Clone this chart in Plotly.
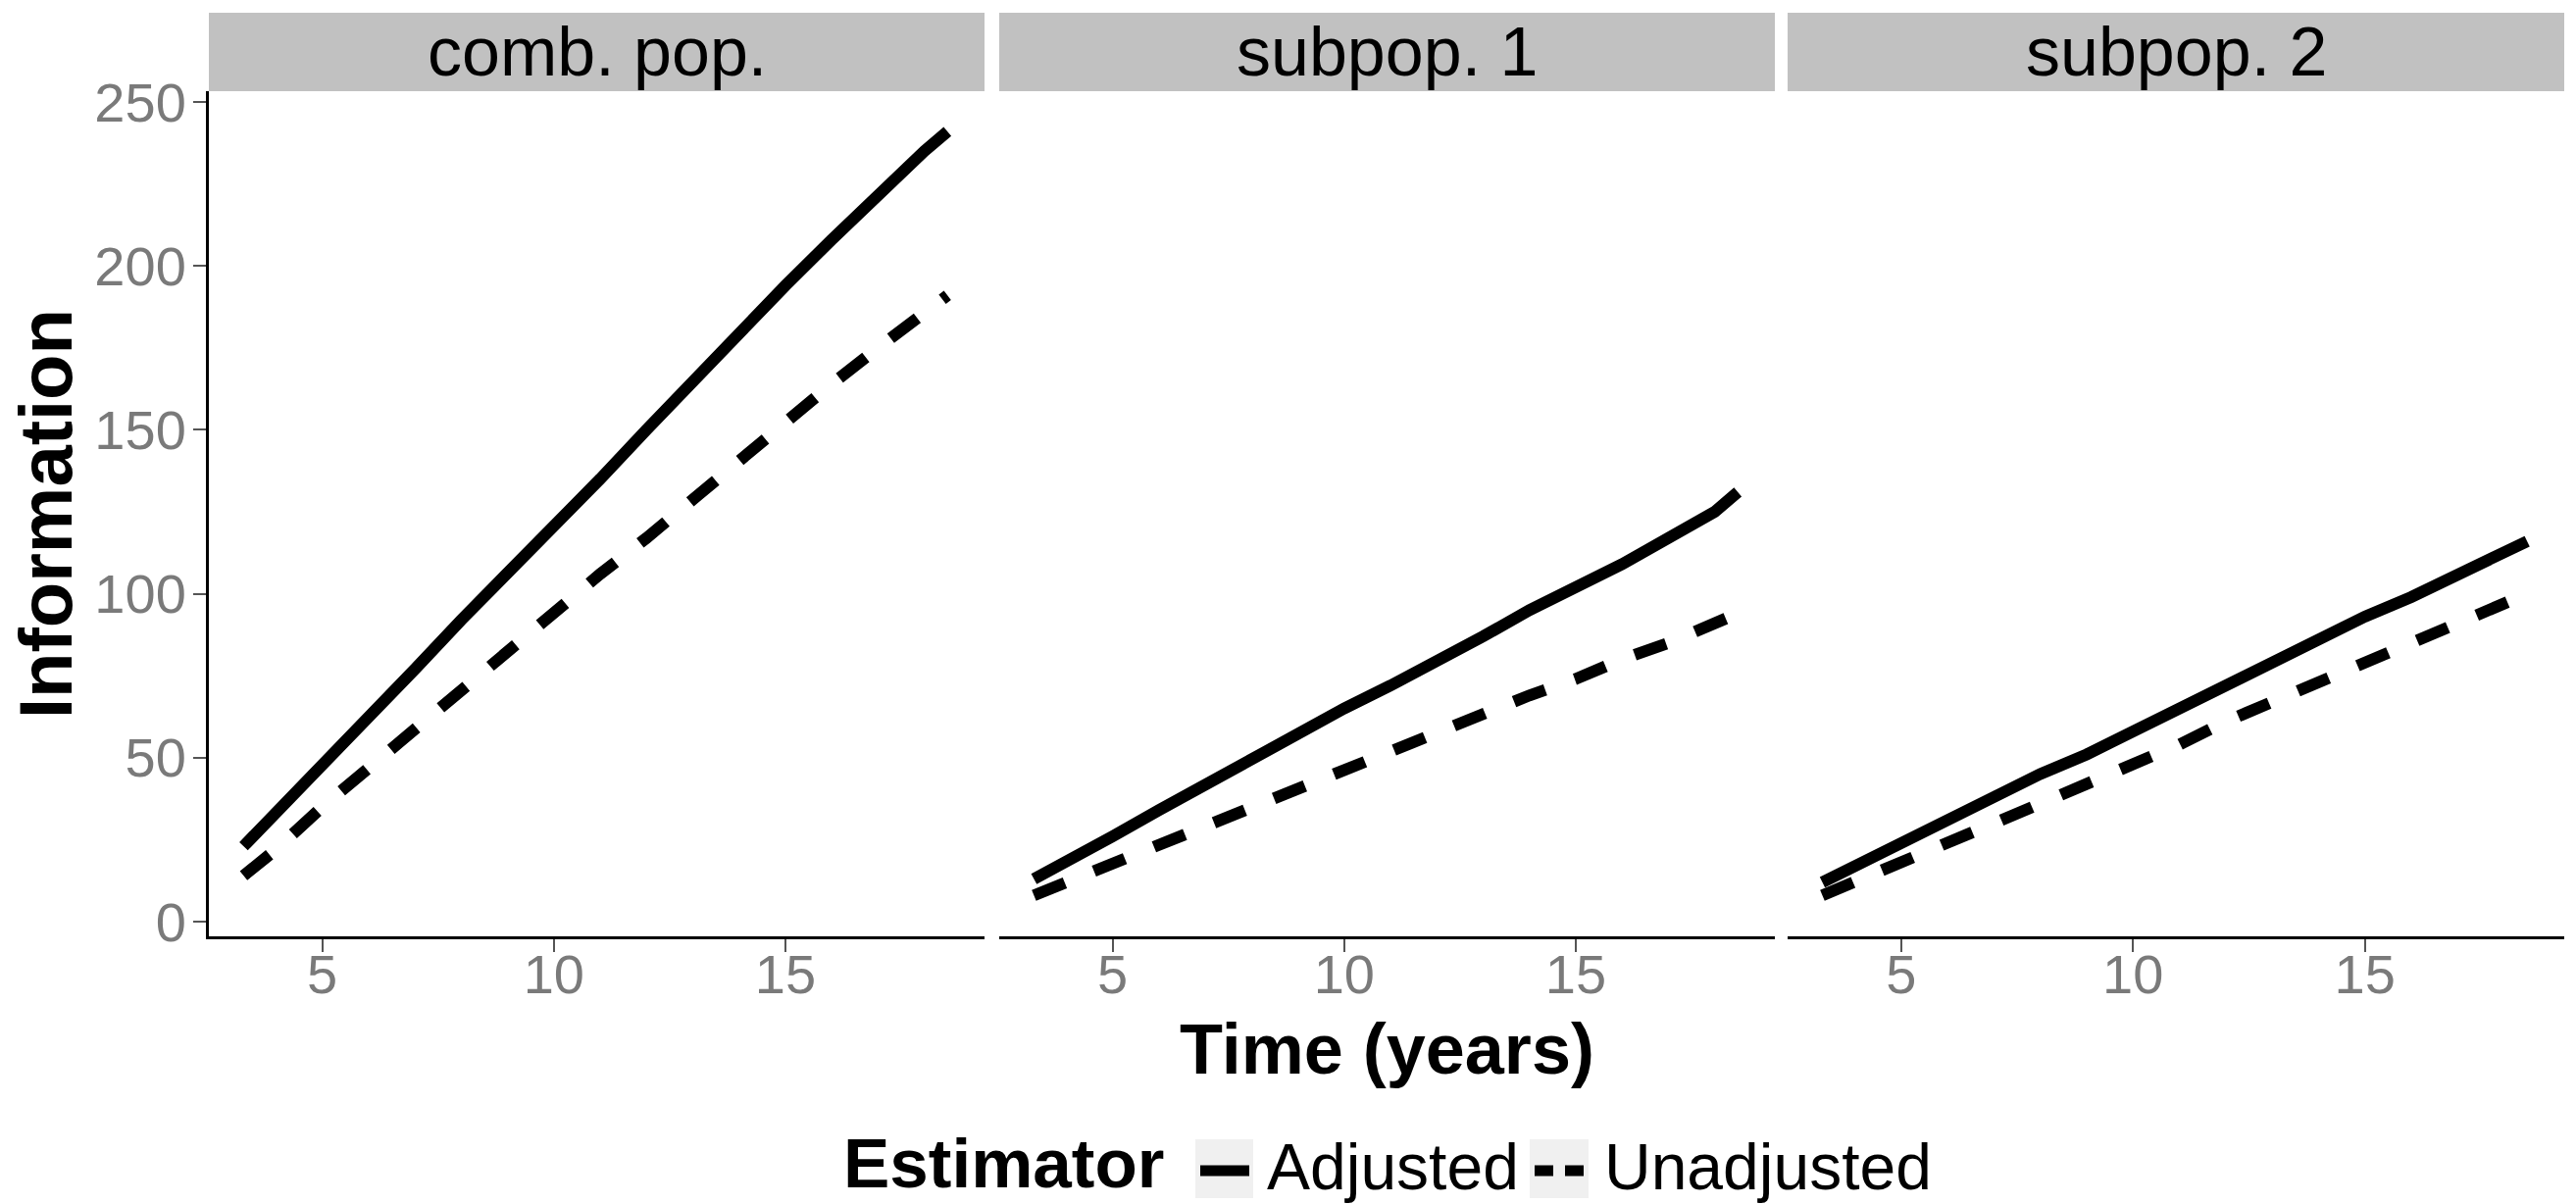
import plotly.graph_objects as go

# Follow-up time in years
time_years = [3.3, 4, 5, 6, 7, 8, 9, 10, 11, 12, 13, 14, 15, 16, 17, 18, 18.5]

# Information by population and estimator
comb_adjusted = [23, 33, 48, 62, 77, 92, 106, 120, 135, 150, 165, 180, 194, 208, 222, 235, 241]
comb_unadjusted = [14, 22, 35, 47, 59, 71, 83, 95, 106, 117, 129, 141, 153, 164, 175, 186, 191]
sub1_adjusted = [13, 18, 26, 34, 42, 50, 58, 65, 72, 79, 87, 95, 102, 109, 117, 125, 131]
sub1_unadjusted = [8, 12, 17.5, 23, 29, 35, 40, 46, 52, 57, 63, 69, 74, 80, 85, 91, 94]
sub2_adjusted = [12, 17, 24, 31, 38, 45, 51, 58, 65, 72, 79, 86, 93, 99, 106, 112, 116]
sub2_unadjusted = [8, 12, 18, 24, 30, 36, 42, 48, 54, 61, 67, 73, 79, 85, 91, 97, 100]

panel_titles = ["comb. pop.", "subpop. 1", "subpop. 2"]
estimators = ["Adjusted", "Unadjusted"]
x_ticks = [5, 10, 15]
y_ticks = [0, 50, 100, 150, 200, 250]

panels = [
    (comb_adjusted, comb_unadjusted),
    (sub1_adjusted, sub1_unadjusted),
    (sub2_adjusted, sub2_unadjusted),
]

W, H = 2627, 1228
FONT = "Liberation Sans, Arial, Helvetica, sans-serif"
LINE_W = 12
DASH = "34px,32px"

def px_x(v):
    return v / W

def px_y(v):
    return 1 - v / H

# panel geometry in pixels
panel_x = [(213, 1004), (1019, 1810), (1823, 2615)]
panel_top, panel_bottom = 93, 955
strip_top = 13

fig = go.Figure()

for i, (adj, unadj) in enumerate(panels):
    suffix = "" if i == 0 else str(i + 1)
    fig.add_trace(go.Scatter(
        x=time_years, y=adj, mode="lines", name=estimators[0],
        line=dict(color="black", width=LINE_W),
        xaxis="x" + suffix, yaxis="y" + suffix, showlegend=False,
    ))
    fig.add_trace(go.Scatter(
        x=time_years, y=unadj, mode="lines", name=estimators[1],
        line=dict(color="black", width=LINE_W, dash=DASH),
        xaxis="x" + suffix, yaxis="y" + suffix, showlegend=False,
    ))

tick_font = dict(family=FONT, size=56, color="#7a7a7a")
xrange = [2.55, 19.3]
yrange = [-4.5, 253.3]

layout = dict(
    width=W, height=H,
    margin=dict(l=0, r=0, t=0, b=0),
    paper_bgcolor="white", plot_bgcolor="white",
    showlegend=False,
)

for i, (x0, x1) in enumerate(panel_x):
    suffix = "" if i == 0 else str(i + 1)
    layout["xaxis" + suffix] = dict(
        domain=[px_x(x0), px_x(x1)], range=xrange,
        anchor="y" + suffix, automargin=False,
        tickmode="array", tickvals=x_ticks, ticktext=[str(t) for t in x_ticks],
        ticks="outside", ticklen=13, tickwidth=2, tickcolor="#555555",
        showline=True, linecolor="black", linewidth=3,
        showgrid=False, zeroline=False,
        tickfont=tick_font, ticklabelstandoff=-25,
    )
    ycfg = dict(
        domain=[px_y(panel_bottom), px_y(panel_top)], range=yrange,
        anchor="x" + suffix, automargin=False,
        showgrid=False, zeroline=False,
    )
    if i == 0:
        ycfg.update(
            tickmode="array", tickvals=y_ticks, ticktext=[str(t) for t in y_ticks],
            ticks="outside", ticklen=13, tickwidth=2, tickcolor="#555555",
            showline=True, linecolor="black", linewidth=3,
            tickfont=tick_font, ticklabelstandoff=-4,
        )
    else:
        ycfg.update(matches="y", showticklabels=False, ticks="", showline=False)
    layout["yaxis" + suffix] = ycfg

shapes = []
annotations = []

# facet strips
for (x0, x1), title in zip(panel_x, panel_titles):
    shapes.append(dict(
        type="rect", xref="paper", yref="paper",
        x0=px_x(x0), x1=px_x(x1), y0=px_y(panel_top), y1=px_y(strip_top),
        fillcolor="#c1c1c1", line=dict(width=0), layer="below",
    ))
    annotations.append(dict(
        text=title, xref="paper", yref="paper",
        x=px_x((x0 + x1) / 2), y=px_y((strip_top + panel_top) / 2),
        xanchor="center", yanchor="middle", showarrow=False,
        font=dict(family=FONT, size=70, color="black"),
    ))

# axis titles
annotations.append(dict(
    text="<b>Time (years)</b>", xref="paper", yref="paper",
    x=px_x((panel_x[1][0] + panel_x[1][1]) / 2), y=px_y(1070),
    xanchor="center", yanchor="middle", showarrow=False,
    font=dict(family=FONT, size=72, color="black"),
))
annotations.append(dict(
    text="<b>Information</b>", xref="paper", yref="paper",
    x=px_x(46), y=px_y((panel_top + panel_bottom) / 2), textangle=-90,
    xanchor="center", yanchor="middle", showarrow=False,
    font=dict(family=FONT, size=76, color="black"),
))

# legend
legend_y = 1190
annotations.append(dict(
    text="<b>Estimator</b>", xref="paper", yref="paper",
    x=px_x(858), y=px_y(legend_y - 4), xanchor="left", yanchor="middle",
    showarrow=False, font=dict(family=FONT, size=71, color="black"),
))
key_boxes = [(1219, 1278), (1560, 1620)]
label_x = [1290, 1634]
for (k0, k1), lx, name, dash in zip(key_boxes, label_x, estimators, ["solid", "19px,12px"]):
    shapes.append(dict(
        type="rect", xref="paper", yref="paper",
        x0=px_x(k0), x1=px_x(k1), y0=px_y(legend_y + 32), y1=px_y(legend_y - 28),
        fillcolor="#f0f0f0", line=dict(width=0),
    ))
    shapes.append(dict(
        type="line", xref="paper", yref="paper",
        x0=px_x(k0 + 5), x1=px_x(k1 - 4), y0=px_y(legend_y + 4), y1=px_y(legend_y + 4),
        line=dict(color="black", width=LINE_W - 1, dash=dash),
    ))
    annotations.append(dict(
        text=name, xref="paper", yref="paper",
        x=px_x(lx), y=px_y(legend_y), xanchor="left", yanchor="middle",
        showarrow=False, font=dict(family=FONT, size=66, color="black"),
    ))

layout["shapes"] = shapes
layout["annotations"] = annotations
fig.update_layout(**layout)

fig.write_html("out.html")
